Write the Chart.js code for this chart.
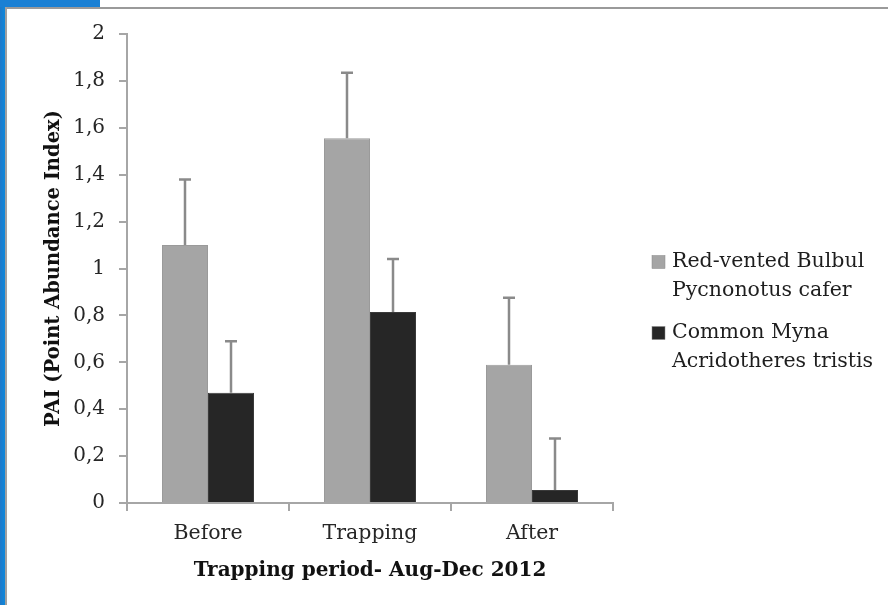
<!DOCTYPE html>
<html>
<head>
<meta charset="utf-8">
<script src="https://cdn.jsdelivr.net/npm/chart.js@4/dist/chart.umd.min.js"></script>
<style>
  html, body { margin: 0; padding: 0; background: #ffffff; }
  #wrap { position: relative; width: 888px; height: 605px; overflow: hidden; background: #fff; }
  #blueLeft { position: absolute; left: 0; top: 0; width: 5px; height: 605px; background: linear-gradient(90deg, #1f78c8, #0d88dc); }
  #blueTop { position: absolute; left: 0; top: 0; width: 100px; height: 7px; background: #1a80d4; }
  #lineTop { position: absolute; left: 5px; top: 7px; width: 883px; height: 2px; background: #9a9a9a; }
  #lineLeft { position: absolute; left: 5px; top: 7px; width: 2px; height: 598px; background: #a0a0a0; }
  canvas { position: absolute; left: 0; top: 0; }
</style>
</head>
<body>
<div id="wrap">
  <canvas id="c" width="888" height="605"></canvas>
  <div id="blueLeft"></div>
  <div id="blueTop"></div>
  <div id="lineTop"></div>
  <div id="lineLeft"></div>
</div>
<script>
// ---- data ----
const categories = ["Before", "Trapping", "After"];
const bulbulValues = [1.10, 1.555, 0.59];
const bulbulErrors = [0.28, 0.28, 0.285];
const mynaValues = [0.47, 0.815, 0.055];
const mynaErrors = [0.22, 0.225, 0.22];
const seriesNames = [
  ["Red-vented Bulbul", "Pycnonotus cafer"],
  ["Common Myna", "Acridotheres tristis"]
];
const yTicks = [0, 0.2, 0.4, 0.6, 0.8, 1, 1.2, 1.4, 1.6, 1.8, 2];
const yTitle = "PAI (Point Abundance Index)";
const xTitle = "Trapping period- Aug-Dec 2012";

const FONT = "'DejaVu Serif', 'Liberation Serif', serif";

const errorBarPlugin = {
  id: 'errorBars',
  afterDatasetsDraw(chart) {
    const ctx = chart.ctx;
    const yScale = chart.scales.y;
    chart.data.datasets.forEach((ds, di) => {
      const meta = chart.getDatasetMeta(di);
      meta.data.forEach((bar, i) => {
        const v = ds.data[i];
        const e = ds.errors[i];
        const yTop = yScale.getPixelForValue(v + e);
        ctx.save();
        ctx.strokeStyle = '#8a8a8a';
        ctx.lineWidth = 2.5;
        ctx.beginPath();
        ctx.moveTo(bar.x, bar.y);
        ctx.lineTo(bar.x, yTop);
        ctx.moveTo(bar.x - 6, yTop);
        ctx.lineTo(bar.x + 6, yTop);
        ctx.stroke();
        ctx.restore();
      });
    });
  }
};

const legendPlugin = {
  id: 'customLegend',
  afterDraw(chart) {
    const ctx = chart.ctx;
    const x0 = 652;
    const startY = [262, 333];
    const lineGap = 29;
    ctx.save();
    chart.data.datasets.forEach((ds, di) => {
      const lines = ds.legendLines;
      const y = startY[di];
      ctx.fillStyle = ds.backgroundColor;
      ctx.fillRect(x0, y - 6.5, 13, 13);
      ctx.strokeStyle = '#888';
      ctx.lineWidth = 0.5;
      ctx.strokeRect(x0, y - 6.5, 13, 13);
      ctx.fillStyle = '#1e1e1e';
      ctx.font = "20.5px " + FONT;
      ctx.textBaseline = 'middle';
      ctx.textAlign = 'left';
      lines.forEach((ln, li) => ctx.fillText(ln, x0 + 20, y + li * lineGap));
    });
    ctx.restore();
  }
};

new Chart(document.getElementById('c'), {
  type: 'bar',
  data: {
    labels: categories,
    datasets: [
      { label: seriesNames[0].join(' '), legendLines: seriesNames[0], data: bulbulValues, errors: bulbulErrors,
        backgroundColor: '#a5a5a5', borderColor: '#9a9a9a', borderWidth: 1,
        barPercentage: 1.0, categoryPercentage: 0.568 },
      { label: seriesNames[1].join(' '), legendLines: seriesNames[1], data: mynaValues, errors: mynaErrors,
        backgroundColor: '#262626', borderColor: '#3a3a3a', borderWidth: 1,
        barPercentage: 1.0, categoryPercentage: 0.568 }
    ]
  },
  options: {
    responsive: false,
    animation: false,
    layout: { padding: { left: 0, right: 275, top: 34, bottom: 0 } },
    plugins: { legend: { display: false }, tooltip: { enabled: false }, title: { display: false } },
    scales: {
      x: {
        grid: { display: true, drawOnChartArea: false, drawTicks: true, tickLength: 8, color: '#a6a6a6', lineWidth: 2, offset: true },
        border: { display: true, color: '#a6a6a6', width: 2 },
        ticks: { color: '#262626', font: { family: FONT, size: 20.5 }, padding: 10 },
        title: { display: true, text: xTitle, color: '#111111', font: { family: FONT, size: 20, weight: 'bold' }, padding: { top: 0, bottom: 22 } },
        afterFit(scale) { scale.height = 102; }
      },
      y: {
        min: 0, max: 2,
        afterBuildTicks(scale) { scale.ticks = yTicks.map(v => ({ value: v })); },
        grid: { display: true, drawOnChartArea: false, drawTicks: true, tickLength: 8, color: '#a6a6a6', lineWidth: 2 },
        border: { display: true, color: '#a6a6a6', width: 2 },
        ticks: { color: '#262626', font: { family: FONT, size: 20 }, padding: 14,
          callback: v => String(Math.round(v * 10) / 10).replace('.', ',') },
        title: { display: true, text: yTitle, color: '#111111', font: { family: FONT, size: 19.5, weight: 'bold' }, padding: { top: 42, bottom: 0 } },
        afterFit(scale) { scale.width = 127; }
      }
    }
  },
  plugins: [errorBarPlugin, legendPlugin]
});
</script>
</body>
</html>
